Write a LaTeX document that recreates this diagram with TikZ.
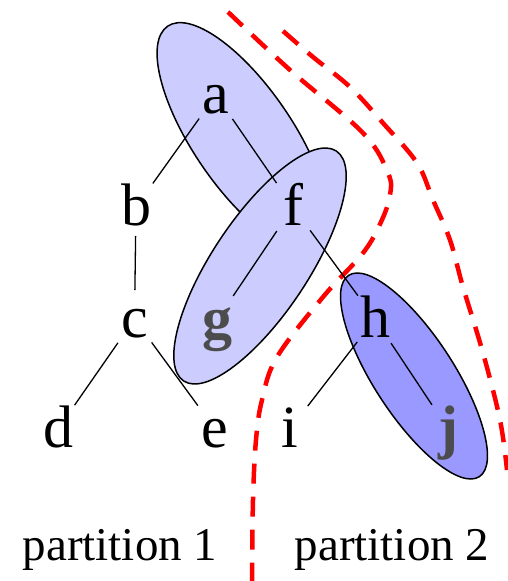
\documentclass[tikz,border=0pt]{standalone}
\usepackage{fontspec}
\setmainfont{Liberation Serif}
\definecolor{lightlav}{HTML}{CCCCFF}
\definecolor{midlav}{HTML}{9999FF}

\begin{document}
\begin{tikzpicture}[x=1pt, y=-1pt, line width=1.3pt,
    every node/.style={font=\fontsize{60}{72}\selectfont},
    vtx/.style={circle, minimum size=58pt, inner sep=0pt, outer sep=0pt,
                text height=36pt, text depth=0pt},
    heavy/.style={vtx, text=black!70, font=\fontsize{60}{72}\selectfont\bfseries},
    blob/.style={draw=black, line width=1.5pt, fill=lightlav},
    cut/.style={red, line width=4.5pt, dash pattern=on 20pt off 13pt},
    label/.style={anchor=base, font=\fontsize{47}{56}\selectfont}]
                \useasboundingbox (0,0) rectangle (508,581);

                % groups
                \draw[blob, rotate around={-55.8:(243,137)}] (243,137) ellipse [x radius=134pt, y radius=50pt];
                \draw[blob, rotate around={56.4:(260,266)}] (260,266) ellipse [x radius=138pt, y radius=48pt];
                \draw[blob, fill=midlav, rotate around={-57:(414,376)}] (414,376) ellipse [x radius=120pt, y radius=40pt];

                % cuts
                \draw[cut] plot[smooth, tension=0.6] coordinates {(228,12) (290,70) (363,133) (388,173) (390,195)
                    (381,222) (363,253) (323,297) (277,357) (262,400) (256,440) (253,500) (252,581)};
                \draw[cut] plot[smooth, tension=0.6] coordinates {(283,31) (313,57) (350,87) (383,123) (417,163)
                    (433,200) (450,240) (463,287) (483,353) (500,420) (507,470)};

                % vertices
                \node[vtx] (a) at (216,95) {a};
                \node[vtx] (b) at (136,207) {b};
                \node[vtx] (c) at (134.5,319) {c};
                \node[vtx] (d) at (58,429) {d};
                \node[vtx] (e) at (215,429) {e};
                \node[vtx] (f) at (293,207) {f};
                \node[heavy] (g) at (217,320) {g};
                \node[vtx] (h) at (375,319) {h};
                \node[vtx] (i) at (290,429) {i};
                \node[heavy] (j) at (448,429) {j};

                \draw (a) -- (b);
                \draw (a) -- (f);
                \draw (b) -- (c);
                \draw (c) -- (d);
                \draw (c) -- (e);
                \draw (f) -- (g);
                \draw (f) -- (h);
                \draw (h) -- (i);
                \draw (h) -- (j);

                \node[label] (p1) at (120,560) {partition 1};
                \node[label] (p2) at (392,560) {partition 2};
            \end{tikzpicture}
\end{document}
